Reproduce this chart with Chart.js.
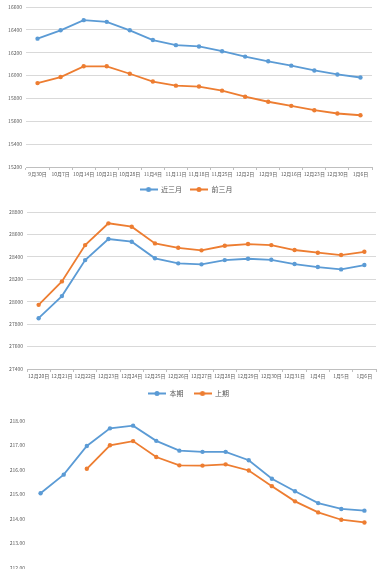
<!DOCTYPE html>
<html>
<head>
<meta charset="utf-8">
<script src="https://cdn.jsdelivr.net/npm/chart.js@4/dist/chart.umd.min.js"></script>
<style>
  html, body { margin: 0; padding: 0; background: #fff; overflow: hidden; width: 380px; height: 569px; }
  canvas { position: absolute; left: 0; }
</style>
</head>
<body>
<canvas id="c1" width="380" height="203" style="top:0px"></canvas>
<canvas id="c2" width="380" height="208" style="top:199px"></canvas>
<canvas id="c3" width="380" height="202" style="top:400px"></canvas>
<script>
// chart 1
var weekLabels = ['9月30日','10月7日','10月14日','10月21日','10月28日','11月4日','11月11日','11月18日',
  '11月25日','12月2日','12月9日','12月16日','12月23日','12月30日','1月6日'];
var weekNames = ['近三月', '前三月'];
var weekBlue = [16323, 16396, 16485, 16470, 16396, 16311, 16266, 16255, 16213, 16166, 16125, 16087, 16045, 16010, 15983];
var weekOrange = [15934, 15987, 16081, 16081, 16016, 15948, 15912, 15904, 15868, 15815, 15771, 15735, 15697, 15668, 15653];

// chart 2
var dayLabels = ['12月20日','12月21日','12月22日','12月23日','12月24日','12月25日','12月26日','12月27日',
  '12月28日','12月29日','12月30日','12月31日','1月4日','1月5日','1月6日'];
var dayNames = ['本期', '上期'];
var dayBlue = [27853, 28050, 28371, 28559, 28535, 28387, 28342, 28333, 28371, 28383, 28374, 28336, 28309, 28288, 28327];
var dayOrange = [27972, 28181, 28505, 28699, 28669, 28520, 28481, 28458, 28499, 28514, 28505, 28461, 28437, 28416, 28445];

// chart 3
var idxNames = ['指数A', '指数B'];
var idxBlue = [215.05, 215.81, 216.98, 217.70, 217.81, 217.19, 216.79, 216.74, 216.74, 216.40, 215.64, 215.13, 214.65, 214.41, 214.34];
var idxOrange = [null, null, 216.05, 217.01, 217.18, 216.53, 216.19, 216.18, 216.23, 215.98, 215.34, 214.72, 214.27, 213.97, 213.86];

var BLUE = '#5b9bd5';
var ORANGE = '#ed7d31';
var FONT = '"Noto Sans CJK SC", "Noto Sans", sans-serif';

function legendIcon(color) {
  var c = document.createElement('canvas');
  c.width = 18; c.height = 7;
  var g = c.getContext('2d');
  g.strokeStyle = color; g.lineWidth = 2;
  g.beginPath(); g.moveTo(0, 3.5); g.lineTo(18, 3.5); g.stroke();
  g.fillStyle = color;
  g.beginPath(); g.arc(9, 3.5, 2.5, 0, Math.PI * 2); g.fill();
  return c;
}

function makeChart(id, labels, names, blue, orange, yMin, yMax, step, decimals, pad, yWidth, showGrid, legendPad) {
  var ctx = document.getElementById(id).getContext('2d');
  return new Chart(ctx, {
    type: 'line',
    data: {
      labels: labels,
      datasets: [{
        label: names[0], data: blue, borderColor: BLUE, backgroundColor: BLUE,
        borderWidth: 1.8, pointRadius: 2.2, pointBorderWidth: 0, tension: 0
      }, {
        label: names[1], data: orange, borderColor: ORANGE, backgroundColor: ORANGE,
        borderWidth: 1.8, pointRadius: 2.2, pointBorderWidth: 0, tension: 0
      }]
    },
    options: {
      responsive: false,
      devicePixelRatio: 1,
      animation: false,
      layout: { padding: pad },
      plugins: {
        tooltip: { enabled: false },
        legend: {
          position: 'bottom',
          labels: {
            font: { family: FONT, size: 7 }, color: '#595959',
            usePointStyle: true, pointStyleWidth: 18, boxHeight: 7, padding: legendPad,
            generateLabels: function(chart) {
              return chart.data.datasets.map(function(ds, i) {
                return { text: ds.label, pointStyle: legendIcon(ds.borderColor), fillStyle: ds.borderColor,
                  strokeStyle: ds.borderColor, lineWidth: 0, datasetIndex: i, fontColor: '#595959' };
              });
            }
          }
        }
      },
      scales: {
        x: {
          offset: true,
          grid: { offset: true, drawOnChartArea: false, tickLength: 3, color: showGrid ? '#bfbfbf' : 'rgba(0,0,0,0)' },
          border: { display: showGrid, color: '#bfbfbf' },
          ticks: { autoSkip: false, maxRotation: 0, minRotation: 0, padding: 1,
            font: { family: FONT, size: 5 }, color: '#595959' }
        },
        y: {
          min: yMin, max: yMax,
          afterFit: function(s) { s.width = yWidth; },
          grid: { display: showGrid, color: '#d9d9d9', drawTicks: false },
          border: { display: false },
          ticks: { stepSize: step, padding: 4, font: { family: FONT, size: 5 }, color: '#595959',
            callback: function(v) { return v.toFixed(decimals); } }
        }
      }
    }
  });
}

makeChart('c1', weekLabels, weekNames, weekBlue, weekOrange, 15200, 16600, 200, 0,
  { top: 6, right: 8, left: 0, bottom: 0 }, 26, true, 8);
makeChart('c2', dayLabels, dayNames, dayBlue, dayOrange, 27400, 28800, 200, 0,
  { top: 13, right: 3, left: 0, bottom: 0 }, 27, true, 10);
makeChart('c3', dayLabels, idxNames, idxBlue, idxOrange, 212, 218, 1, 2,
  { top: 21, right: 2, left: 0, bottom: 0 }, 29, false, 6);
</script>
</body>
</html>
